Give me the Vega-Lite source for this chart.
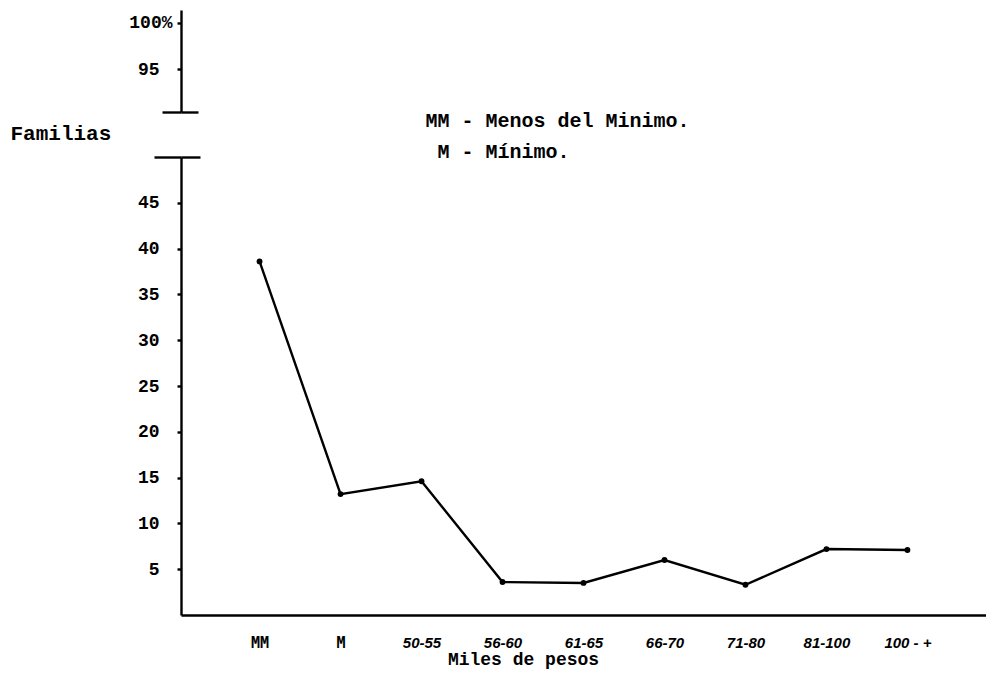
{
  "$schema": "https://vega.github.io/schema/vega-lite/v6.json",
  "width": 805,
  "height": 605,
  "autosize": {"type": "none"},
  "padding": {"left": 181, "top": 10, "right": 0, "bottom": 58},
  "background": "white",
  "config": {"view": {"stroke": null}, "font": "Liberation Mono"},
  "datasets": {
    "familias": [
      {"renta": "MM", "porcentaje": 38.6},
      {"renta": "M", "porcentaje": 13.2},
      {"renta": "50-55", "porcentaje": 14.6},
      {"renta": "56-60", "porcentaje": 3.6},
      {"renta": "61-65", "porcentaje": 3.5},
      {"renta": "66-70", "porcentaje": 6.0},
      {"renta": "71-80", "porcentaje": 3.3},
      {"renta": "81-100", "porcentaje": 7.2},
      {"renta": "100 - +", "porcentaje": 7.1}
    ],
    "notas": [
      {"clave": "MM", "nota": "MM - Menos del Minimo.", "en": "50-55", "nivel": 53.9},
      {"clave": "M", "nota": "M - Mínimo.", "en": "50-55", "nivel": 50.6}
    ]
  },
  "layer": [
    {
      "layer": [
        {
          "data": {"name": "familias"},
          "mark": {"type": "line", "color": "black", "strokeWidth": 2.4},
          "encoding": {
            "x": {
              "field": "renta", "type": "nominal", "sort": null,
              "scale": {"type": "point", "padding": 0.97, "domain": ["MM", "M", "50-55", "56-60", "61-65", "66-70", "71-80", "81-100", "100 - +"]},
              "axis": {
                "orient": "bottom", "domainColor": "black", "domainWidth": 2.4,
                "ticks": false, "grid": false, "labelAngle": 0, "labelPadding": 20,
                "labelFont": {"condition": {"test": "datum.value === 'MM' || datum.value === 'M'", "value": "DejaVu Sans Mono"}, "value": "Liberation Sans"},
                "labelFontSize": 15, "labelColor": "black",
                "labelFontStyle": {"condition": {"test": "datum.value === 'MM' || datum.value === 'M'", "value": "normal"}, "value": "italic"},
                "labelFontWeight": "bold",
                "title": "Miles de pesos", "titleFont": "Liberation Mono", "titleFontSize": 18,
                "titleFontWeight": "bold", "titleColor": "black", "titleX": 342, "titlePadding": 0
              }
            },
            "y": {
              "field": "porcentaje", "type": "quantitative",
              "scale": {"domain": [0, 50], "range": [605, 147], "nice": false, "zero": false},
              "axis": {
                "orient": "left", "values": [5, 10, 15, 20, 25, 30, 35, 40, 45, 49.97, 50],
                "labelExpr": "datum.value >= 49 ? '' : datum.label",
                "domainColor": "black", "domainWidth": 2.4,
                "tickColor": "black", "tickWidth": 2.4,
                "tickSize": {"condition": [{"test": "datum.value == 50", "value": 27}, {"test": "datum.value > 49 && datum.value < 50", "value": -19}], "value": 4},
                "labelFont": "Liberation Mono", "labelFontSize": 18, "labelFontWeight": "bold",
                "labelColor": "black", "labelPadding": 18, "grid": false,
                "title": "Familias", "titleAngle": 0, "titleAlign": "left", "titleBaseline": "middle",
                "titleX": -171, "titleY": 123, "titleFont": "Liberation Mono", "titleFontSize": 21,
                "titleFontWeight": "bold", "titleColor": "black"
              }
            }
          }
        },
        {
          "data": {"name": "familias"},
          "mark": {"type": "point", "filled": true, "color": "black", "size": 34, "opacity": 1},
          "encoding": {
            "x": {"field": "renta", "type": "nominal", "sort": null},
            "y": {"field": "porcentaje", "type": "quantitative"}
          }
        },
        {
          "data": {"name": "notas"},
          "transform": [{"filter": "datum.clave === 'MM'"}],
          "mark": {"type": "text", "align": "left", "baseline": "middle", "dx": 4, "font": "Liberation Mono", "fontSize": 20, "fontWeight": "bold", "color": "black"},
          "encoding": {
            "x": {"field": "en", "type": "nominal", "sort": null},
            "y": {"field": "nivel", "type": "quantitative"},
            "text": {"field": "nota"}
          }
        },
        {
          "data": {"name": "notas"},
          "transform": [{"filter": "datum.clave === 'M'"}],
          "mark": {"type": "text", "align": "left", "baseline": "middle", "dx": 16, "font": "Liberation Mono", "fontSize": 20, "fontWeight": "bold", "color": "black"},
          "encoding": {
            "x": {"field": "en", "type": "nominal", "sort": null},
            "y": {"field": "nivel", "type": "quantitative"},
            "text": {"field": "nota"}
          }
        }
      ]
    },
    {
      "data": {"name": "familias"},
      "mark": {"type": "point", "opacity": 0},
      "encoding": {
        "y": {
          "datum": 95, "type": "quantitative",
          "scale": {"domain": [90.33, 101.41], "range": [102, 0], "nice": false, "zero": false},
          "axis": {
            "orient": "left", "values": [90.33, 90.36, 95, 100],
            "labelExpr": "datum.value < 91 ? '' : (datum.value == 100 ? '100%' : datum.label)",
            "domainColor": "black", "domainWidth": 2.4,
            "tickColor": "black", "tickWidth": 2.4,
            "tickSize": {"condition": [{"test": "datum.value < 90.34", "value": 19}, {"test": "datum.value < 91", "value": -17}], "value": 4},
            "labelFont": "Liberation Mono", "labelFontSize": 18, "labelFontWeight": "bold",
            "labelColor": "black",
            "labelPadding": {"condition": {"test": "datum.value == 100", "value": 5}, "value": 18},
            "grid": false, "title": null
          }
        }
      }
    }
  ],
  "resolve": {"scale": {"y": "independent"}, "axis": {"y": "independent"}}
}
